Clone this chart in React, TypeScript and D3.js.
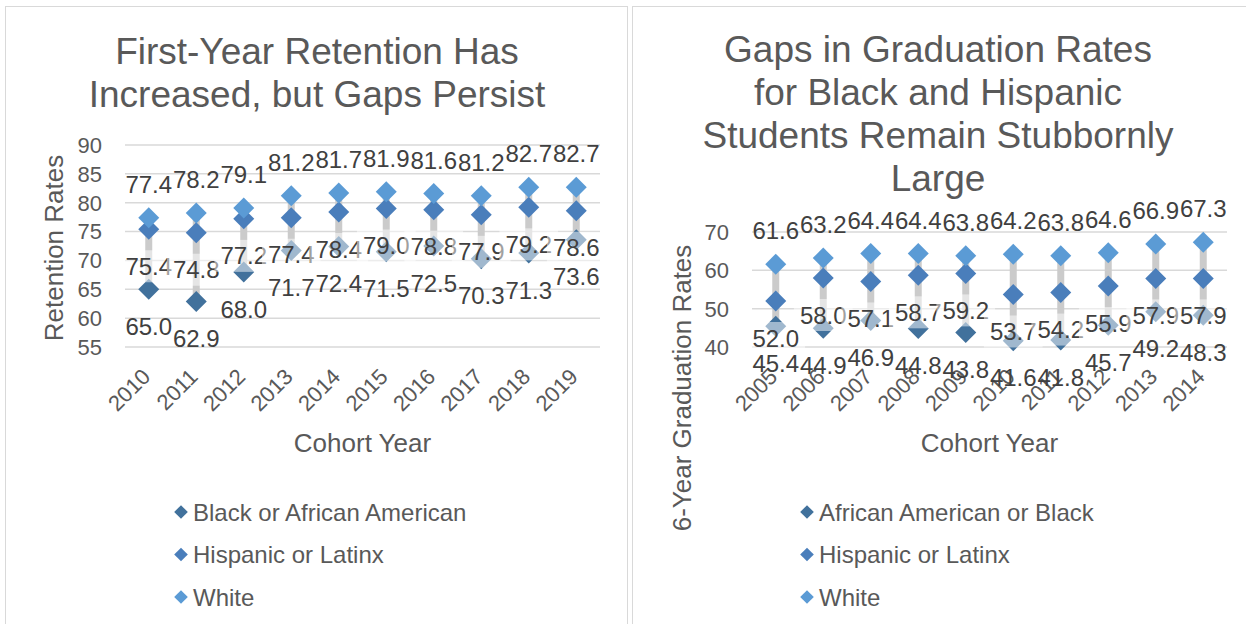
import React from "react";
import * as d3 from "d3";

// ---- Retention (left panel) ----
const retentionYears = ["2010", "2011", "2012", "2013", "2014", "2015", "2016", "2017", "2018", "2019"];
const retentionBlack = [65.0, 62.9, 68.0, 71.7, 72.4, 71.5, 72.5, 70.3, 71.3, 73.6];
const retentionHispanic = [75.4, 74.8, 77.2, 77.4, 78.4, 79.0, 78.8, 77.9, 79.2, 78.6];
const retentionWhite = [77.4, 78.2, 79.1, 81.2, 81.7, 81.9, 81.6, 81.2, 82.7, 82.7];
const retentionTicks = [55, 60, 65, 70, 75, 80, 85, 90];

// ---- Graduation (right panel) ----
const gradYears = ["2005", "2006", "2007", "2008", "2009", "2010", "2011", "2012", "2013", "2014"];
const gradBlack = [45.4, 44.9, 46.9, 44.8, 43.8, 41.6, 41.8, 45.7, 49.2, 48.3];
const gradHispanic = [52.0, 58.0, 57.1, 58.7, 59.2, 53.7, 54.2, 55.9, 57.9, 57.9];
const gradWhite = [61.6, 63.2, 64.4, 64.4, 63.8, 64.2, 63.8, 64.6, 66.9, 67.3];
const gradTicks = [40, 50, 60, 70];

const FONT = "'Liberation Sans', Arial, Helvetica, sans-serif";
const C_BLACK = "#41719C";
const C_HISP = "#4A7EBB";
const C_WHITE = "#5B9BD5";
const TEXT = "#595959";
const LABEL = "#404040";
const GRID = "#D9D9D9";

type Series = {
  name: string;
  values: number[];
  color: string;
  pos: "above" | "below";
  boxed: boolean;
};

type PanelProps = {
  categories: string[];
  series: Series[];
  domain: [number, number];
  ticks: number[];
  plotLeft: number;
  plotRight: number;
  plotTop: number;
  plotBottom: number;
  title: string[];
  titleX: number;
  titleY: number;
  yTitle: string;
  yTitleX: number;
  yTitleY: number;
  xTitle: string;
  legendX: number;
};

const diamond = (cx: number, cy: number, r: number) =>
  `M${cx},${cy - r}L${cx + r},${cy}L${cx},${cy + r}L${cx - r},${cy}Z`;

// rough Arial advance widths for numeric labels
const textWidth = (s: string, size: number) =>
  s.split("").reduce((w, ch) => w + (ch === "." ? 0.278 : 0.556), 0) * size;

function Panel(p: PanelProps) {
  const x = d3
    .scaleBand<string>()
    .domain(p.categories)
    .range([p.plotLeft, p.plotRight])
    .padding(0);
  const y = d3.scaleLinear().domain(p.domain).range([p.plotBottom, p.plotTop]);
  const cx = (c: string) => (x(c) as number) + x.bandwidth() / 2;
  const labelSize = 24;
  const r = 10.5;

  return (
    <g>
      {/* title */}
      {p.title.map((line, i) => (
        <text
          key={"t" + i}
          x={p.titleX}
          y={p.titleY + i * 43}
          textAnchor="middle"
          fontSize={37}
          fill={TEXT}
        >
          {line}
        </text>
      ))}

      {/* gridlines */}
      {p.ticks.map((t) => (
        <line
          key={"g" + t}
          x1={p.plotLeft}
          x2={p.plotRight}
          y1={y(t)}
          y2={y(t)}
          stroke={GRID}
          strokeWidth={1.5}
        />
      ))}

      {/* y tick labels */}
      {p.ticks.map((t) => (
        <text
          key={"yl" + t}
          x={p.plotLeft - 23}
          y={y(t)}
          dy="0.36em"
          textAnchor="end"
          fontSize={22}
          fill={TEXT}
        >
          {t}
        </text>
      ))}

      {/* x tick labels */}
      {p.categories.map((c) => (
        <text
          key={"xl" + c}
          transform={`translate(${cx(c) + 3},${p.plotBottom + 31}) rotate(-45)`}
          textAnchor="end"
          fontSize={22}
          fill={TEXT}
        >
          {c}
        </text>
      ))}

      {/* high-low lines */}
      {p.categories.map((c, i) => {
        const vals = p.series.map((s) => s.values[i]);
        return (
          <line
            key={"hl" + c}
            x1={cx(c)}
            x2={cx(c)}
            y1={y(d3.max(vals) as number)}
            y2={y(d3.min(vals) as number)}
            stroke="#CBCBCB"
            strokeWidth={7}
          />
        );
      })}

      {/* markers */}
      {p.series.map((s) =>
        s.values.map((v, i) => (
          <path
            key={s.name + "m" + i}
            d={diamond(cx(p.categories[i]), y(v), r)}
            fill={s.color}
          />
        ))
      )}

      {/* data labels */}
      {p.series.map((s) =>
        s.values.map((v, i) => {
          const px = cx(p.categories[i]);
          const center = s.pos === "above" ? y(v) - 33.5 : y(v) + 37;
          const str = v.toFixed(1);
          const w = textWidth(str, labelSize);
          return (
            <g key={s.name + "l" + i}>
              {s.boxed && (
                <rect
                  x={px - w / 2 - 6}
                  y={center - 16}
                  width={w + 12}
                  height={32}
                  fill="#FFFFFF"
                  fillOpacity={0.5}
                />
              )}
              <text
                x={px}
                y={center + 8.6}
                textAnchor="middle"
                fontSize={labelSize}
                fill={LABEL}
              >
                {str}
              </text>
            </g>
          );
        })
      )}

      {/* axis titles */}
      <text
        transform={`translate(${p.yTitleX},${p.yTitleY}) rotate(-90)`}
        textAnchor="middle"
        fontSize={26}
        fill={TEXT}
      >
        {p.yTitle}
      </text>
      <text
        x={(p.plotLeft + p.plotRight) / 2}
        y={452}
        textAnchor="middle"
        fontSize={26}
        fill={TEXT}
      >
        {p.xTitle}
      </text>

      {/* legend */}
      {p.series.map((s, i) => {
        const cy = 512 + i * 42.5;
        return (
          <g key={"lg" + s.name}>
            <path d={diamond(p.legendX, cy, 6.8)} fill={s.color} />
            <text x={p.legendX + 12} y={cy + 8.6} fontSize={24} fill={TEXT}>
              {s.name}
            </text>
          </g>
        );
      })}
    </g>
  );
}

export default function App() {
  const leftSeries: Series[] = [
    { name: "Black or African American", values: retentionBlack, color: C_BLACK, pos: "below", boxed: false },
    { name: "Hispanic or Latinx", values: retentionHispanic, color: C_HISP, pos: "below", boxed: true },
    { name: "White", values: retentionWhite, color: C_WHITE, pos: "above", boxed: false },
  ];
  const rightSeries: Series[] = [
    { name: "African American or Black", values: gradBlack, color: C_BLACK, pos: "below", boxed: false },
    { name: "Hispanic or Latinx", values: gradHispanic, color: C_HISP, pos: "below", boxed: true },
    { name: "White", values: gradWhite, color: C_WHITE, pos: "above", boxed: false },
  ];

  return (
    <svg
      width={1246}
      height={624}
      style={{ position: "absolute", left: 0, top: 0, background: "#FFFFFF" }}
      fontFamily={FONT}
    >
      <rect x={0} y={0} width={1246} height={624} fill="#FFFFFF" />
      <rect x={5.5} y={6.5} width={622} height={640} fill="none" stroke={GRID} strokeWidth={1} />
      <rect x={632.5} y={6.5} width={640} height={640} fill="none" stroke={GRID} strokeWidth={1} />

      <Panel
        categories={retentionYears}
        series={leftSeries}
        domain={[55, 90]}
        ticks={retentionTicks}
        plotLeft={125}
        plotRight={600}
        plotTop={145}
        plotBottom={347}
        title={["First-Year Retention Has", "Increased, but Gaps Persist"]}
        titleX={317}
        titleY={64}
        yTitle="Retention Rates"
        yTitleX={63}
        yTitleY={248}
        xTitle="Cohort Year"
        legendX={181}
      />
      <Panel
        categories={gradYears}
        series={rightSeries}
        domain={[40, 70]}
        ticks={gradTicks}
        plotLeft={752}
        plotRight={1227}
        plotTop={232}
        plotBottom={347}
        title={["Gaps in Graduation Rates", "for Black and Hispanic", "Students Remain Stubbornly", "Large"]}
        titleX={938}
        titleY={62}
        yTitle="6-Year Graduation Rates"
        yTitleX={691}
        yTitleY={388}
        xTitle="Cohort Year"
        legendX={807}
      />
    </svg>
  );
}
